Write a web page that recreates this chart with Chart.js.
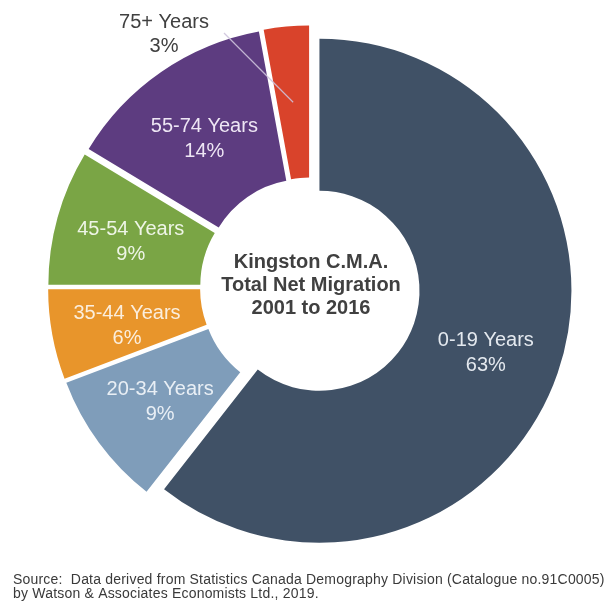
<!DOCTYPE html>
<html>
<head>
<meta charset="utf-8">
<title>Kingston C.M.A. Total Net Migration 2001 to 2016</title>
<script src="https://cdn.jsdelivr.net/npm/chart.js@4.4.1/dist/chart.umd.min.js"></script>
<style>
    html, body { margin: 0; padding: 0; background: #fff; }
    #wrap { position: relative; width: 608px; height: 612px; }
</style>
</head>
<body>
<div id="wrap"><canvas id="migrationChart" width="608" height="612"></canvas></div>
<script>
// Age groups and their share of net migration (%)
const ageGroups = ["0-19 Years", "20-34 Years", "35-44 Years", "45-54 Years", "55-74 Years", "75+ Years"];
const shares = [63, 9, 6, 9, 14, 3];

const sliceColours = ["#405166", "#7f9dba", "#e8952b", "#7aa545", "#5d3c80", "#d9432b"];
const labelColours = ["#e4e9ef", "#e9eff5", "#fbeedd", "#eef5e6", "#eee6f4", "#404040"];

const centreLines = ["Kingston C.M.A.", "Total Net Migration", "2001 to 2016"];
const sourceLines = [
    "Source:  Data derived from Statistics Canada Demography Division (Catalogue no.91C0005)",
    "by Watson & Associates Economists Ltd., 2019."
];

const EXPLODE = 10;          // how far each slice is pulled out from the centre
const FONT = '"Liberation Sans", Arial, sans-serif';
const OUTSIDE_LABEL = { x: 164, y: 34 };   // where the small-slice label sits

function midPoint(arc, ratio) {
    const mid = (arc.startAngle + arc.endAngle) / 2;
    const r = arc.innerRadius + (arc.outerRadius - arc.innerRadius) * ratio + EXPLODE;
    return { x: arc.x + Math.cos(mid) * r, y: arc.y + Math.sin(mid) * r };
}

// draw each slice pushed outward along its middle angle
const explodePlugin = {
    id: 'explode',
    beforeDatasetDraw(chart, args) {
        const ctx = chart.ctx;
        args.meta.data.forEach(arc => {
            const mid = (arc.startAngle + arc.endAngle) / 2;
            ctx.save();
            ctx.translate(Math.cos(mid) * EXPLODE, Math.sin(mid) * EXPLODE);
            arc.draw(ctx);
            ctx.restore();
        });
        return false;
    }
};

// slice labels, centre title and source note
const labelPlugin = {
    id: 'sliceLabels',
    afterDatasetsDraw(chart) {
        const ctx = chart.ctx;
        const arcs = chart.getDatasetMeta(0).data;
        ctx.save();
        ctx.textAlign = 'center';
        ctx.textBaseline = 'middle';
        ctx.font = '20px ' + FONT;

        arcs.forEach((arc, i) => {
            const value = shares[i] + '%';
            ctx.fillStyle = labelColours[i];
            if (shares[i] < 5) {
                // too small to hold text: label outside with a leader line
                const end = midPoint(arc, 0.5);
                ctx.strokeStyle = 'rgba(205, 195, 220, 0.9)';
                ctx.lineWidth = 1.2;
                ctx.beginPath();
                ctx.moveTo(OUTSIDE_LABEL.x + 60, OUTSIDE_LABEL.y - 1);
                ctx.lineTo(end.x, end.y);
                ctx.stroke();
                ctx.fillText(ageGroups[i], OUTSIDE_LABEL.x, OUTSIDE_LABEL.y - 12);
                ctx.fillText(value, OUTSIDE_LABEL.x, OUTSIDE_LABEL.y + 12);
            } else {
                const p = midPoint(arc, 0.5);
                ctx.fillText(ageGroups[i], p.x, p.y - 8);
                ctx.fillText(value, p.x, p.y + 17);
            }
        });

        const cx = arcs[0].x + 1;
        const cy = arcs[0].y - 2;
        ctx.font = 'bold 20px ' + FONT;
        ctx.fillStyle = '#404040';
        centreLines.forEach((line, i) => {
            ctx.fillText(line, cx, cy + (i - 1) * 23);
        });

        ctx.textAlign = 'left';
        ctx.font = '14px ' + FONT;
        ctx.letterSpacing = '0.2px';
        ctx.fillStyle = '#3a3a3a';
        sourceLines.forEach((line, i) => {
            ctx.fillText(line, 13, 580 + i * 14);
        });
        ctx.restore();
    }
};

new Chart(document.getElementById('migrationChart'), {
    type: 'doughnut',
    data: {
        labels: ageGroups,
        datasets: [{
            data: shares,
            backgroundColor: sliceColours,
            borderWidth: 0,
            hoverOffset: 0
        }]
    },
    options: {
        responsive: false,
        animation: false,
        radius: 252,
        cutout: '39.7%',
        layout: {
            padding: { left: 12, right: 0, top: 0, bottom: 37 }
        },
        plugins: {
            legend: { display: false },
            tooltip: { enabled: false }
        }
    },
    plugins: [explodePlugin, labelPlugin]
});
</script>
</body>
</html>
